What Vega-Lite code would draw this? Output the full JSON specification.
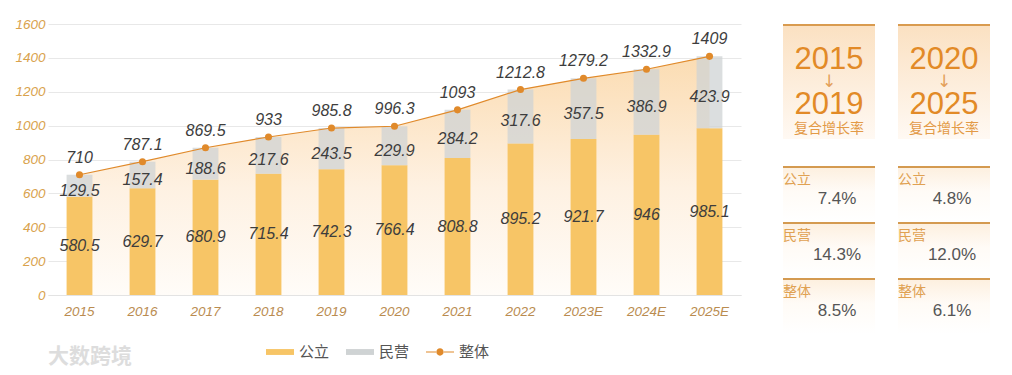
{
  "$schema": "https://vega.github.io/schema/vega-lite/v6.json",
  "background": "#ffffff",
  "padding": {"left": 14, "top": 17, "right": 5, "bottom": 0},
  "config": {
    "view": {"stroke": null},
    "font": "Liberation Sans",
    "axisX": {"labelAngle": 0, "ticks": false, "domainColor": "#E3E3E3", "labelPadding": 9, "labelColor": "#BA8C50", "labelFontSize": 13.5, "labelFontStyle": "italic", "grid": false},
    "axisY": {"grid": true, "gridColor": "#E8E8E8", "domain": false, "ticks": false, "labelPadding": 3, "labelColor": "#D9A24C", "labelFontSize": 13.5, "labelFontStyle": "italic", "tickCount": 8, "format": "d"}
  },
  "datasets": {
    "bars": [
      {"year": "2015", "series": "公立", "value": 580.5}, {"year": "2015", "series": "民营", "value": 129.5},
      {"year": "2016", "series": "公立", "value": 629.7}, {"year": "2016", "series": "民营", "value": 157.4},
      {"year": "2017", "series": "公立", "value": 680.9}, {"year": "2017", "series": "民营", "value": 188.6},
      {"year": "2018", "series": "公立", "value": 715.4}, {"year": "2018", "series": "民营", "value": 217.6},
      {"year": "2019", "series": "公立", "value": 742.3}, {"year": "2019", "series": "民营", "value": 243.5},
      {"year": "2020", "series": "公立", "value": 766.4}, {"year": "2020", "series": "民营", "value": 229.9},
      {"year": "2021", "series": "公立", "value": 808.8}, {"year": "2021", "series": "民营", "value": 284.2},
      {"year": "2022", "series": "公立", "value": 895.2}, {"year": "2022", "series": "民营", "value": 317.6},
      {"year": "2023E", "series": "公立", "value": 921.7}, {"year": "2023E", "series": "民营", "value": 357.5},
      {"year": "2024E", "series": "公立", "value": 946}, {"year": "2024E", "series": "民营", "value": 386.9},
      {"year": "2025E", "series": "公立", "value": 985.1}, {"year": "2025E", "series": "民营", "value": 423.9}
    ],
    "total": [
      {"year": "2015", "total": 710}, {"year": "2016", "total": 787.1}, {"year": "2017", "total": 869.5},
      {"year": "2018", "total": 933}, {"year": "2019", "total": 985.8}, {"year": "2020", "total": 996.3},
      {"year": "2021", "total": 1093}, {"year": "2022", "total": 1212.8}, {"year": "2023E", "total": 1279.2},
      {"year": "2024E", "total": 1332.9}, {"year": "2025E", "total": 1409}
    ],
    "header": [
      {"col": "2015-2019", "from": "2015", "to": "2019"},
      {"col": "2020-2025", "from": "2020", "to": "2025"}
    ],
    "rates": [
      {"col": "2015-2019", "cat": "公立", "rate": 0.074},
      {"col": "2015-2019", "cat": "民营", "rate": 0.143},
      {"col": "2015-2019", "cat": "整体", "rate": 0.085},
      {"col": "2020-2025", "cat": "公立", "rate": 0.048},
      {"col": "2020-2025", "cat": "民营", "rate": 0.12},
      {"col": "2020-2025", "cat": "整体", "rate": 0.061}
    ]
  },
  "spacing": 42,
  "hconcat": [
    {
      "width": 693,
      "height": 271,
      "title": {"text": "大数跨境", "orient": "bottom", "anchor": "start", "frame": "group", "fontSize": 21, "fontWeight": "bold", "color": "#DDDDDD", "offset": 28, "font": "Noto Sans CJK SC"},
      "encoding": {
        "x": {"field": "year", "type": "nominal", "sort": null, "title": null, "scale": {"paddingInner": 0.59, "paddingOuter": 0.295}}
      },
      "layer": [
        {
          "data": {"name": "total"},
          "mark": {"type": "area", "color": {"gradient": "linear", "x1": 0, "y1": 0, "x2": 0, "y2": 1, "stops": [{"offset": 0, "color": "#FBDCB2"}, {"offset": 0.55, "color": "#FEF1E2"}, {"offset": 1, "color": "#FFFCF8"}]}},
          "encoding": {"y": {"field": "total", "type": "quantitative", "title": null, "scale": {"domain": [0, 1600], "nice": false}}}
        },
        {
          "data": {"name": "bars"},
          "mark": {"type": "bar"},
          "encoding": {
            "y": {"field": "value", "type": "quantitative", "stack": "zero", "title": null},
            "order": {"field": "series", "sort": "ascending"},
            "opacity": {"field": "series", "type": "nominal", "scale": {"domain": ["公立", "民营"], "range": [1, 0.75]}, "legend": null},
            "color": {
              "field": "series", "type": "nominal",
              "scale": {"domain": ["公立", "民营", "整体"], "range": ["#F7C566", "#CFD3D4", "#E08A2B"]},
              "legend": {
                "orient": "none", "legendX": 218, "legendY": 314, "direction": "horizontal", "title": null,
                "symbolSize": 784, "labelFontSize": 15, "labelColor": "#555555", "labelFont": "Noto Sans CJK SC",
                "labelOffset": 5, "columnPadding": 16, "padding": 0,
                "encode": {"symbols": {"update": {
                  "shape": {"signal": "datum.value === '整体' ? 'M-1,-0.04L-0.28,-0.04L-0.28,0.04L-1,0.04Z M0.28,-0.04L1,-0.04L1,0.04L0.28,0.04Z M-0.26,0A0.26,0.26 0 1,1 0.26,0A0.26,0.26 0 1,1 -0.26,0Z' : 'M-1,-0.21L1,-0.21L1,0.21L-1,0.21Z'"},
                  "fill": {"scale": "color", "field": "value"},
                  "stroke": {"value": "transparent"},
                  "strokeWidth": {"value": 0},
                  "opacity": {"value": 1}
                }}}
              }
            }
          }
        },
        {
          "data": {"name": "total"},
          "mark": {"type": "line", "strokeWidth": 1.2},
          "encoding": {"y": {"field": "total", "type": "quantitative", "title": null}, "color": {"datum": "整体", "type": "nominal", "legend": null}}
        },
        {
          "data": {"name": "total"},
          "mark": {"type": "point", "filled": true, "size": 50, "opacity": 1},
          "encoding": {"y": {"field": "total", "type": "quantitative", "title": null}, "color": {"datum": "整体", "type": "nominal", "legend": null}}
        },
        {
          "data": {"name": "total"},
          "mark": {"type": "text", "dy": -17, "fontSize": 16, "fontStyle": "italic", "color": "#3D3D3D"},
          "encoding": {"y": {"field": "total", "type": "quantitative", "title": null}, "text": {"field": "total", "type": "quantitative", "format": "~f"}}
        },
        {
          "data": {"name": "bars"},
          "transform": [
            {"stack": "value", "groupby": ["year"], "sort": [{"field": "series", "order": "ascending"}], "as": ["v0", "v1"]},
            {"fold": ["v0", "v1"], "as": ["edge", "pos"]},
            {"aggregate": [{"op": "mean", "field": "pos", "as": "mid"}], "groupby": ["year", "series", "value"]},
            {"filter": "datum.series === '公立'"}
          ],
          "mark": {"type": "text", "dy": 0, "fontSize": 16, "fontStyle": "italic", "color": "#3D3D3D"},
          "encoding": {"y": {"field": "mid", "type": "quantitative", "title": null}, "text": {"field": "value", "type": "quantitative", "format": "~f"}}
        },
        {
          "data": {"name": "bars"},
          "transform": [
            {"stack": "value", "groupby": ["year"], "sort": [{"field": "series", "order": "ascending"}], "as": ["v0", "v1"]},
            {"fold": ["v0", "v1"], "as": ["edge", "pos"]},
            {"aggregate": [{"op": "mean", "field": "pos", "as": "mid"}], "groupby": ["year", "series", "value"]},
            {"filter": "datum.series === '民营'"}
          ],
          "mark": {"type": "text", "dy": 5, "fontSize": 16, "fontStyle": "italic", "color": "#3D3D3D"},
          "encoding": {"y": {"field": "mid", "type": "quantitative", "title": null}, "text": {"field": "value", "type": "quantitative", "format": "~f"}}
        }
      ]
    },
    {
      "spacing": 27,
      "vconcat": [
        {
          "width": 207,
          "height": 115,
          "data": {"name": "header"},
          "encoding": {"x": {"field": "col", "type": "nominal", "sort": null, "axis": null, "scale": {"paddingInner": 0.2, "paddingOuter": 0}}},
          "layer": [
            {"mark": {"type": "rect", "color": {"gradient": "linear", "x1": 0, "y1": 0, "x2": 0, "y2": 1, "stops": [{"offset": 0, "color": "#D99B4F"}, {"offset": 0.018, "color": "#D99B4F"}, {"offset": 0.02, "color": "#FBE1C2"}, {"offset": 0.55, "color": "#FDEEDD"}, {"offset": 1, "color": "#FFF9F3"}]}}},
            {"mark": {"type": "text", "fontSize": 31, "color": "#E28A27", "dy": -22}, "encoding": {"text": {"field": "from"}}},
            {"mark": {"type": "text", "fontSize": 17, "color": "#E3A05A", "dy": 0, "text": "↓", "font": "DejaVu Sans"}},
            {"mark": {"type": "text", "fontSize": 31, "color": "#E28A27", "dy": 23.5}, "encoding": {"text": {"field": "to"}}},
            {"mark": {"type": "text", "fontSize": 14, "color": "#E39A47", "dy": 47, "text": "复合增长率", "font": "Noto Sans CJK SC"}}
          ]
        },
        {
          "width": 207,
          "height": 168,
          "data": {"name": "rates"},
          "encoding": {
            "x": {"field": "col", "type": "nominal", "sort": null, "axis": null, "scale": {"paddingInner": 0.2, "paddingOuter": 0}},
            "y": {"field": "cat", "type": "nominal", "sort": null, "axis": null, "scale": {"paddingInner": 0, "paddingOuter": 0}}
          },
          "layer": [
            {"mark": {"type": "rect", "color": {"gradient": "linear", "x1": 0, "y1": 0, "x2": 0, "y2": 1, "stops": [{"offset": 0, "color": "#D49A50"}, {"offset": 0.036, "color": "#D49A50"}, {"offset": 0.04, "color": "#FDF0E0"}, {"offset": 0.45, "color": "#FFFBF6"}, {"offset": 1, "color": "#FFFFFF"}]}}},
            {"mark": {"type": "text", "align": "left", "dy": -14, "fontSize": 14, "color": "#E0A152", "font": "Noto Sans CJK SC"},
             "encoding": {"x": {"field": "col", "type": "nominal", "sort": null, "axis": null, "bandPosition": 0}, "text": {"field": "cat"}}},
            {"mark": {"type": "text", "dx": 8, "dy": 5, "fontSize": 17, "color": "#555555"},
             "encoding": {"text": {"field": "rate", "type": "quantitative", "format": ".1%"}}}
          ]
        }
      ]
    }
  ]
}
